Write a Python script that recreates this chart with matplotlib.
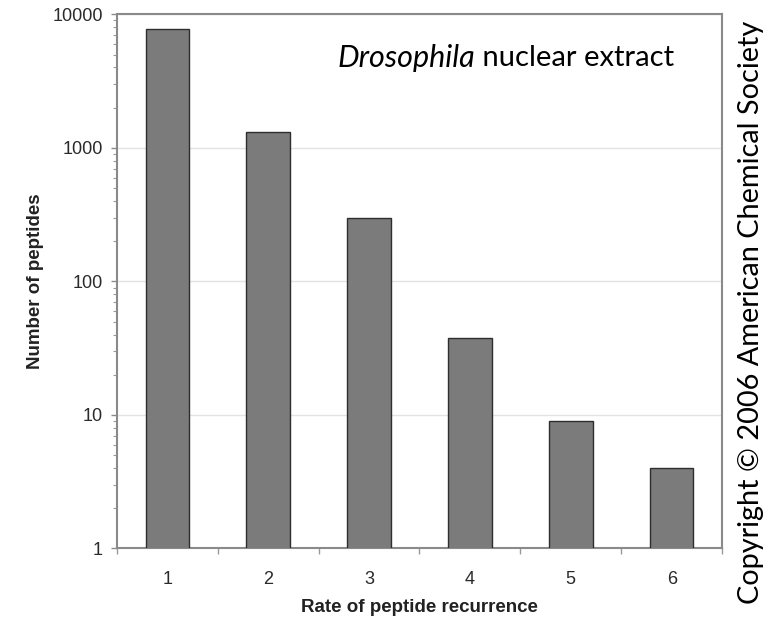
import matplotlib
matplotlib.use("Agg")
import matplotlib.pyplot as plt
import numpy as np

recurrence = [1, 2, 3, 4, 5, 6]
n_peptides = [7800, 1320, 300, 38, 9, 4]
y_ticks = [1, 10, 100, 1000, 10000]

fig = plt.figure(figsize=(7.79, 6.24), dpi=100)
ax = fig.add_axes([0.150, 0.121, 0.777, 0.856])

ax.bar(recurrence, n_peptides, width=0.43, color="#7b7b7b",
       edgecolor="#2e2e2e", linewidth=1.0, zorder=3)

ax.set_yscale("log")
ax.set_ylim(1, 10000)
ax.set_xlim(0.5, 6.5)
ax.set_yticks(y_ticks)
ax.set_yticklabels([str(v) for v in y_ticks])
ax.yaxis.grid(True, which="major", color="#e3e3e3", linewidth=1.0, zorder=0)

ax.set_xticks(recurrence)
ax.set_xticklabels([str(v) for v in recurrence])
ax.set_xticks(np.arange(0.5, 7, 1.0), minor=True)

for sp in ax.spines.values():
    sp.set_color("#8a8a8a")
    sp.set_linewidth(1.5)

ax.tick_params(axis="y", which="major", direction="out", length=4, width=1,
               color="#8a8a8a", pad=6, labelsize=13, labelcolor="#2a2a2a")
ax.tick_params(axis="y", which="minor", direction="out", length=3, width=0.8,
               color="#9a9a9a")
ax.tick_params(axis="x", which="major", length=0, pad=16, labelsize=13,
               labelcolor="#2a2a2a")
ax.tick_params(axis="x", which="minor", direction="out", length=4, width=1,
               color="#9a9a9a")

for lab in ax.get_xticklabels() + ax.get_yticklabels():
    lab.set_family("Liberation Sans")

ax.set_xlabel("Rate of peptide recurrence", fontsize=13.5, fontweight="bold",
              family="Liberation Sans", color="#222222", labelpad=8)
ax.set_ylabel("Number of peptides", fontsize=13.5, fontweight="bold",
              family="Liberation Sans", color="#222222", labelpad=6)

t1 = ax.text(0.364, 0.918, "Drosophila", transform=ax.transAxes, fontsize=22,
             style="italic", family="Lato", va="center", ha="left", zorder=5)
ax.annotate(" nuclear extract", xy=(1, 0.5), xycoords=t1, fontsize=21,
            family="Lato", va="center", ha="left", zorder=5)

fig.text(0.964, 0.5, "Copyright \u00a9 2006 American Chemical Society",
         rotation=90, fontsize=20.8, family="Lato", va="center", ha="center")

plt.savefig("out.png", dpi=100)
